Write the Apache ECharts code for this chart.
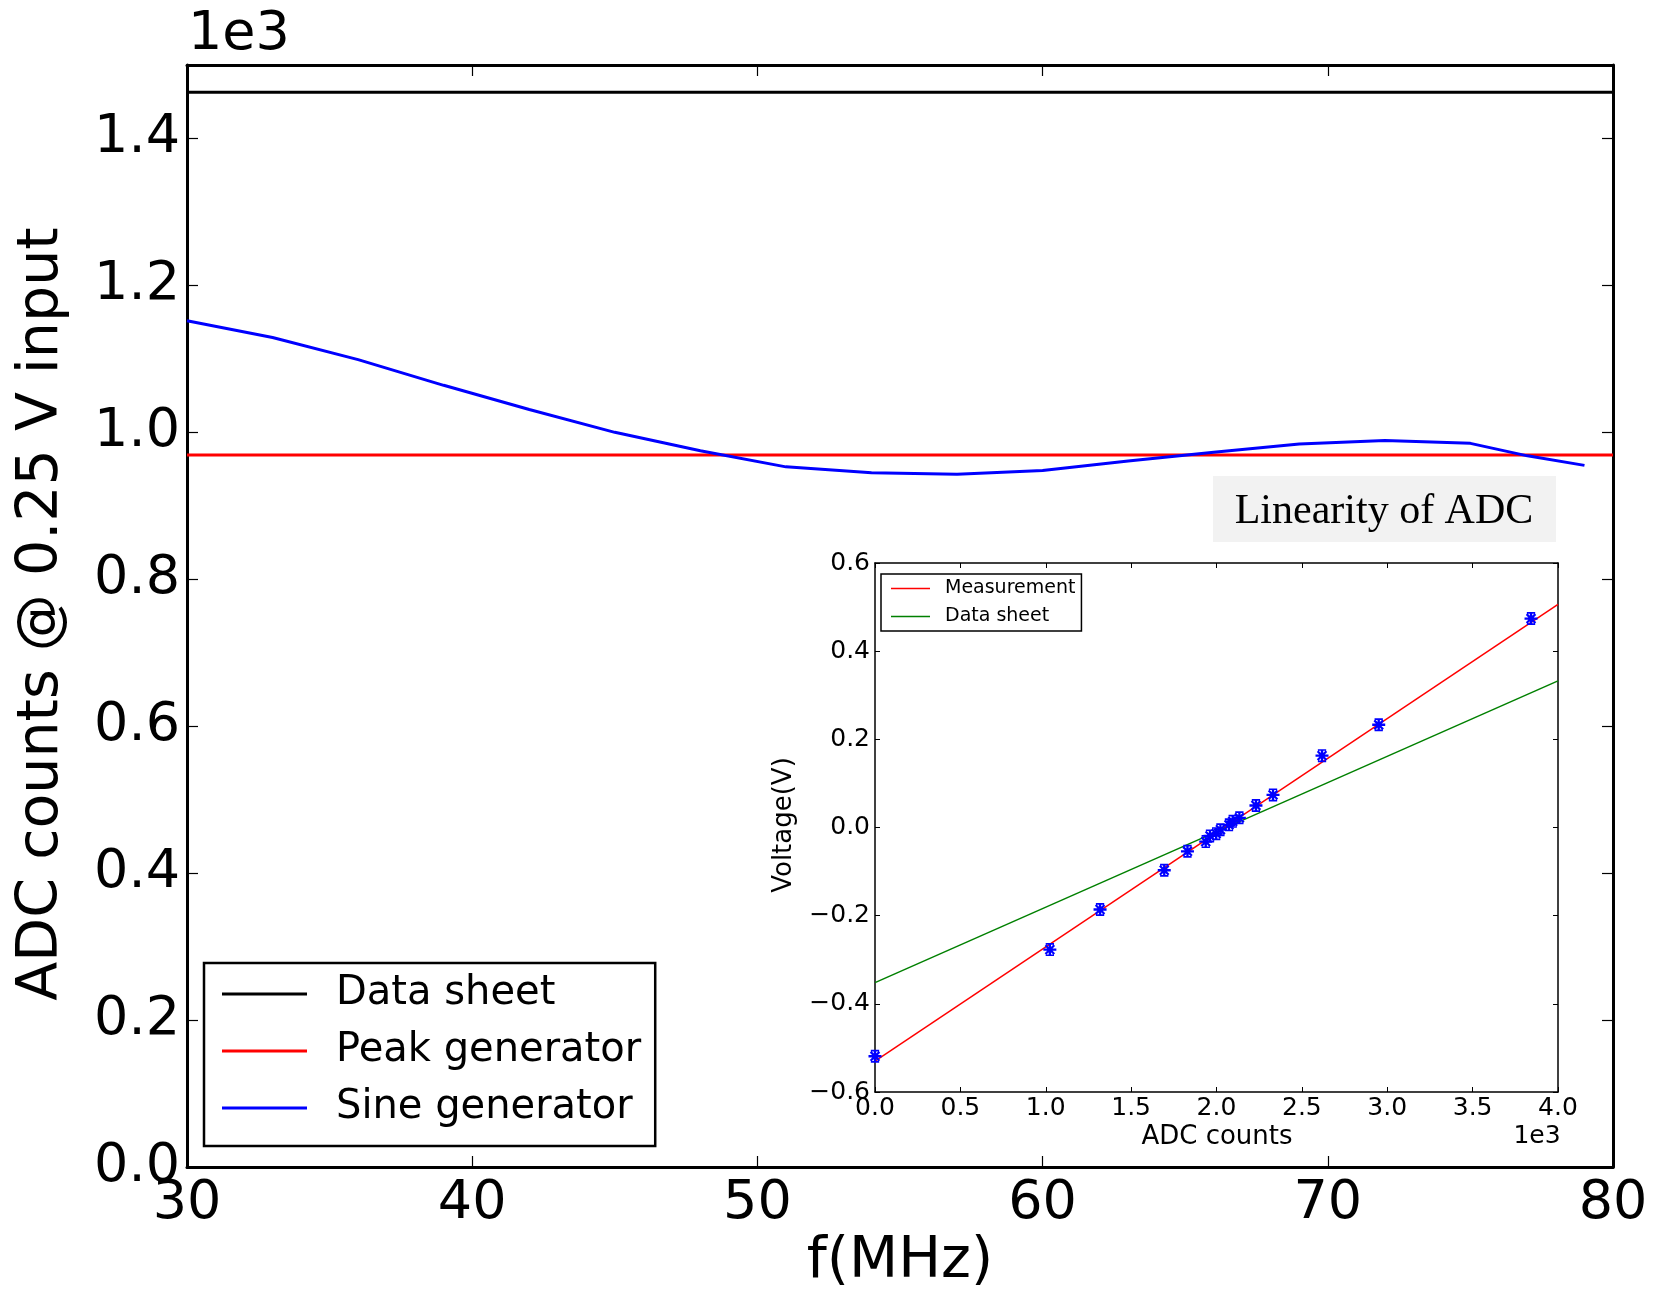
<!DOCTYPE html>
<html>
<head>
<meta charset="utf-8">
<script src="https://cdn.jsdelivr.net/npm/echarts@6/dist/echarts.min.js"></script>
<style>html,body{margin:0;padding:0;background:#fff}#c{width:1659px;height:1289px}</style>
</head>
<body>
<div id="c"></div>
<script>
// ---- Main chart data (ADC counts vs frequency) ----
const freqMHz = [30, 33, 36, 39, 42, 45, 48, 51, 54, 57, 60, 63, 66, 69, 72, 75, 77, 79];
const sineCounts = [1152, 1129, 1099, 1064, 1031, 1000, 975, 953, 945, 943, 948, 961, 973, 984, 989, 985, 968, 955];
const dataSheetLevel = 1463;
const peakGenLevel = 969;
const freqRange = [30, 80];

// ---- Inset data (Linearity of ADC) ----
const adcCounts = [0, 1024, 1318, 1694, 1830, 1937, 1962, 1998, 2023, 2073, 2095, 2134, 2231, 2331, 2618, 2950, 3842];
const voltages = [-0.519, -0.277, -0.186, -0.097, -0.054, -0.032, -0.019, -0.014, -0.005, 0.006, 0.014, 0.022, 0.050, 0.074, 0.163, 0.233, 0.474];
const fitAdc = [0, 4000];
const measurementFit = [-0.530, 0.506];
const datasheetFit = [-0.352, 0.3325];

const F = 'DejaVu Sans';
const chart = echarts.init(document.getElementById('c'), null, {renderer: 'canvas'});

const G0 = {left: 187, top: 65, width: 1426, height: 1102};
const G1 = {left: 875, top: 563, width: 683, height: 529};

const asterisk = 'path://M4.1,0h1.8v10h-1.8zM0,4.1h10v1.8h-10zM1,2.2L2.2,1L9,7.8L7.8,9zM7.8,1L9,2.2L2.2,9L1,7.8zM1.8,0h6.4v1.3h-6.4zM1.8,8.7h6.4v1.3h-6.4z';

function fmtV(v) {
  if (Math.abs(v) < 1e-9) return '0.0';
  return v.toFixed(1).replace('-', '\u2212');
}

const mainTick = {show: true, inside: true, length: 11, lineStyle: {color: '#000', width: 1.2}};
const insetTick = {show: true, inside: true, length: 5, lineStyle: {color: '#000', width: 1}};
const mainLine = {show: true, onZero: false, lineStyle: {color: '#000', width: 3}};
const insetLine = {show: true, onZero: false, lineStyle: {color: '#000', width: 1.5}};

const option = {
  backgroundColor: '#fff',
  animation: false,
  grid: [
    Object.assign({containLabel: false}, G0),
    Object.assign({containLabel: false, show: true, backgroundColor: '#fff', borderWidth: 0}, G1)
  ],
  xAxis: [
    {gridIndex: 0, type: 'value', min: freqRange[0], max: freqRange[1], interval: 10, position: 'bottom',
     axisLine: mainLine, axisTick: mainTick,
     axisLabel: {color: '#000', fontFamily: F, fontSize: 54, margin: 10}, splitLine: {show: false}},
    {gridIndex: 0, type: 'value', min: freqRange[0], max: freqRange[1], interval: 10, position: 'top',
     axisLine: mainLine, axisTick: mainTick,
     axisLabel: {show: false}, splitLine: {show: false}},
    {gridIndex: 1, type: 'value', min: 0, max: 4000, interval: 500, position: 'bottom',
     axisLine: insetLine, axisTick: insetTick,
     axisLabel: {color: '#000', fontFamily: F, fontSize: 25, margin: 4, formatter: v => (v / 1000).toFixed(1)}, splitLine: {show: false}},
    {gridIndex: 1, type: 'value', min: 0, max: 4000, interval: 500, position: 'top',
     axisLine: insetLine, axisTick: insetTick,
     axisLabel: {show: false}, splitLine: {show: false}}
  ],
  yAxis: [
    {gridIndex: 0, type: 'value', min: 0, max: 1500, interval: 200, position: 'left',
     axisLine: mainLine, axisTick: mainTick,
     axisLabel: {color: '#000', fontFamily: F, fontSize: 54, margin: 7, showMaxLabel: false,
       formatter: v => (v / 1000).toFixed(1)}, splitLine: {show: false}},
    {gridIndex: 0, type: 'value', min: 0, max: 1500, interval: 200, position: 'right',
     axisLine: mainLine, axisTick: mainTick,
     axisLabel: {show: false}, splitLine: {show: false}},
    {gridIndex: 1, type: 'value', min: -0.6, max: 0.6, interval: 0.2, position: 'left',
     axisLine: insetLine, axisTick: insetTick,
     axisLabel: {color: '#000', fontFamily: F, fontSize: 25, margin: 5, formatter: fmtV}, splitLine: {show: false}},
    {gridIndex: 1, type: 'value', min: -0.6, max: 0.6, interval: 0.2, position: 'right',
     axisLine: insetLine, axisTick: insetTick,
     axisLabel: {show: false}, splitLine: {show: false}}
  ],
  legend: [
    {
      data: ['Data sheet', 'Peak generator', 'Sine generator'],
      orient: 'vertical', left: 204, top: 963,
      icon: 'rect', itemWidth: 85, itemHeight: 3, itemGap: 17,
      padding: [11, 14, 18, 18],
      borderColor: '#000', borderWidth: 2.5, backgroundColor: '#fff',
      textStyle: {fontFamily: F, fontSize: 40, color: '#000', padding: [0, 0, 0, 24]},
      selectedMode: false
    },
    {
      data: ['Measurement', 'Datasheet fit'],
      orient: 'vertical', left: 881, top: 574,
      icon: 'rect', itemWidth: 39, itemHeight: 1.5, itemGap: 9,
      padding: [5, 6, 5, 10],
      borderColor: '#000', borderWidth: 1.5, backgroundColor: '#fff',
      formatter: n => n === 'Datasheet fit' ? 'Data sheet' : n,
      textStyle: {fontFamily: F, fontSize: 19, color: '#000', padding: [0, 0, 0, 10]},
      selectedMode: false
    }
  ],
  series: [
    {name: 'Data sheet', type: 'line', xAxisIndex: 0, yAxisIndex: 0, symbol: 'none',
     lineStyle: {color: '#000', width: 3}, itemStyle: {color: '#000'},
     data: freqRange.map(f => [f, dataSheetLevel])},
    {name: 'Peak generator', type: 'line', xAxisIndex: 0, yAxisIndex: 0, symbol: 'none',
     lineStyle: {color: '#ff0000', width: 3}, itemStyle: {color: '#ff0000'},
     data: freqRange.map(f => [f, peakGenLevel])},
    {name: 'Sine generator', type: 'line', xAxisIndex: 0, yAxisIndex: 0, symbol: 'none',
     lineStyle: {color: '#0000ff', width: 3}, itemStyle: {color: '#0000ff'},
     data: freqMHz.map((f, i) => [f, sineCounts[i]])},
    {name: 'Measurement', type: 'line', xAxisIndex: 2, yAxisIndex: 2, symbol: 'none', z: 3,
     lineStyle: {color: '#ff0000', width: 1.5}, itemStyle: {color: '#ff0000'},
     data: fitAdc.map((x, i) => [x, measurementFit[i]])},
    {name: 'Datasheet fit', type: 'line', xAxisIndex: 2, yAxisIndex: 2, symbol: 'none', z: 3,
     lineStyle: {color: '#008000', width: 1.5}, itemStyle: {color: '#008000'},
     data: fitAdc.map((x, i) => [x, datasheetFit[i]])},
    {name: 'Points', type: 'scatter', xAxisIndex: 2, yAxisIndex: 2, symbol: asterisk, symbolSize: 13, z: 4,
     itemStyle: {color: '#0000ff', opacity: 1}, clip: false,
     data: adcCounts.map((x, i) => [x, voltages[i]])}
  ],
  graphic: [
    {type: 'text', left: 188, top: 8, style: {text: '1e3', font: '54px "DejaVu Sans"', fill: '#000'}},
    {type: 'text', x: 42, y: 614, rotation: Math.PI / 2,
     style: {text: 'ADC counts @ 0.25 V input', font: '57px "DejaVu Sans"', fill: '#000', textAlign: 'center', textVerticalAlign: 'middle'}},
    {type: 'text', x: 900, y: 1262,
     style: {text: 'f(MHz)', font: '57px "DejaVu Sans"', fill: '#000', textAlign: 'center', textVerticalAlign: 'middle'}},
    {type: 'rect', shape: {x: 1213, y: 476, width: 343, height: 66}, style: {fill: '#f2f2f2'}, z: 10},
    {type: 'text', x: 1384, y: 512, z: 11,
     style: {text: 'Linearity of ADC', font: '42px "Liberation Serif"', fill: '#000', textAlign: 'center', textVerticalAlign: 'middle'}},
    {type: 'text', x: 784, y: 825, rotation: Math.PI / 2, z: 11,
     style: {text: 'Voltage(V)', font: '26px "DejaVu Sans"', fill: '#000', textAlign: 'center', textVerticalAlign: 'middle'}},
    {type: 'text', x: 1217, y: 1137, z: 11,
     style: {text: 'ADC counts', font: '26px "DejaVu Sans"', fill: '#000', textAlign: 'center', textVerticalAlign: 'middle'}},
    {type: 'text', x: 1537, y: 1136, z: 11,
     style: {text: '1e3', font: '25px "DejaVu Sans"', fill: '#000', textAlign: 'center', textVerticalAlign: 'middle'}}
  ]
};
chart.setOption(option);
</script>
</body>
</html>
